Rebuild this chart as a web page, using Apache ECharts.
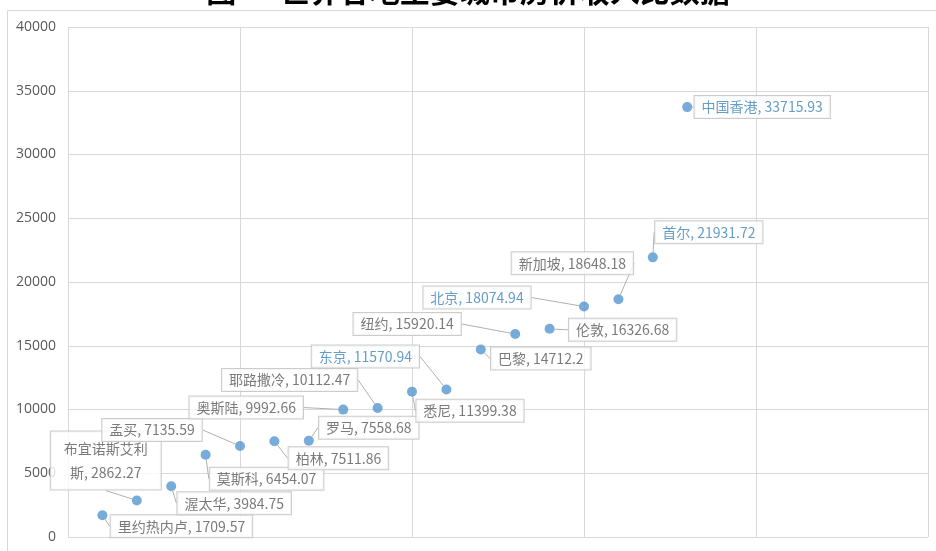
<!DOCTYPE html>
<html>
<head>
<meta charset="utf-8">
<script src="https://cdn.jsdelivr.net/npm/echarts@6/dist/echarts.min.js"></script>
<style>
html,body{margin:0;padding:0;background:#fff;}
#chart{width:936px;height:551px;}
</style>
</head>
<body>
<div id="chart"></div>
<script>
// ---- data ----
const titleText = '图一  世界各地主要城市房价收入比数据';
const cities = ['里约热内卢','布宜诺斯艾利斯','渥太华','莫斯科','孟买','柏林','罗马','奥斯陆','耶路撒冷','悉尼','东京','巴黎','纽约','伦敦','北京','新加坡','首尔','中国香港'];
const xIndex = [1,2,3,4,5,6,7,8,9,10,11,12,13,14,15,16,17,18];
const prices = [1709.57,2862.27,3984.75,6454.07,7135.59,7511.86,7558.68,9992.66,10112.47,11399.38,11570.94,14712.2,15920.14,16326.68,18074.94,18648.18,21931.72,33715.93];
const highlighted = ['东京','北京','首尔','中国香港'];
const yTicks = [0,5000,10000,15000,20000,25000,30000,35000,40000];

// ---- label placement (offsets of label centre from its point, px) ----
const labelOffsets = [
  [79,11],[-31,-40],[63,17],[61,24],[-88,-16],[64,17],[60,-13],[-97,-2],[-88,-28],
  [58,19],[-81,-33],[60,9],[-108,-10],[73,1],[-107,-9],[-46,-36],[56,-25],[75,0]
];

const chart = echarts.init(document.getElementById('chart'));
const data = cities.map((c,i)=>{
  const item = {name:c, value:[xIndex[i], prices[i]]};
  const lab = {};
  if (highlighted.indexOf(c) >= 0) lab.color = '#3f84b8';
  if (c === '布宜诺斯艾利斯') { lab.width = 88; lab.overflow = 'break'; lab.lineHeight = 24; lab.padding = [5,11]; }
  item.label = lab;
  return item;
});

chart.setOption({
  animation:false,
  title:{
    text:titleText, left:'center', top:-29,
    textStyle:{fontSize:30, fontWeight:'bold', color:'#000', fontFamily:'Noto Sans CJK SC'}
  },
  graphic:[{
    type:'rect', shape:{x:7.5,y:10.5,width:940,height:560},
    style:{fill:'none', stroke:'#d9d9d9', lineWidth:1}, silent:true, z:-10
  }],
  grid:{left:68, right:8, top:27, bottom:14},
  xAxis:{
    type:'value', min:0, max:25, interval:5,
    axisLine:{show:false}, axisTick:{show:false}, axisLabel:{show:false},
    splitLine:{show:true, lineStyle:{color:'#d9d9d9', width:1}}
  },
  yAxis:{
    type:'value', min:yTicks[0], max:yTicks[yTicks.length-1], interval:yTicks[1]-yTicks[0],
    axisLine:{show:false}, axisTick:{show:false},
    axisLabel:{color:'#595959', fontSize:14, margin:12, fontFamily:'Open Sans', formatter:v=>String(v)},
    splitLine:{show:true, lineStyle:{color:'#d9d9d9', width:1}}
  },
  series:[{
    type:'scatter',
    symbolSize:10,
    itemStyle:{color:'#5596d0'},
    data:data,
    label:{
      show:true, position:'inside',
      formatter:p=>p.name+', '+p.value[1],
      color:'#595959', fontSize:14, fontFamily:'Noto Sans CJK SC',
      backgroundColor:'#fff', borderColor:'#bfbfbf', borderWidth:1,
      padding:[4,7], align:'center'
    },
    labelLine:{show:true, lineStyle:{color:'#b0b0b0', width:1}},
    labelLayout:function(params){
      const o = labelOffsets[params.dataIndex];
      return {dx:o[0], dy:o[1]};
    }
  }]
});
</script>
</body>
</html>
